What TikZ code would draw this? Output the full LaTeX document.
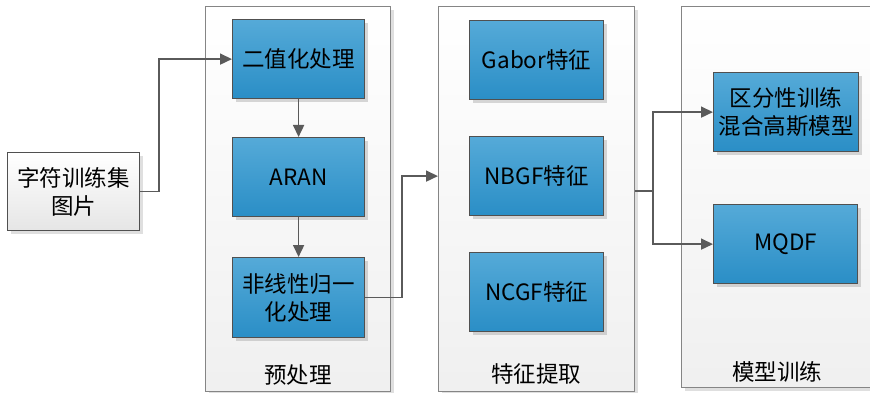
\documentclass[tikz,border=0pt]{standalone}
\usepackage{fontspec}
\setmainfont{Noto Sans CJK SC}
\usetikzlibrary{shadows,arrows.meta}
\definecolor{bluetop}{HTML}{55AAD8}
\definecolor{bluebot}{HTML}{2A8EC6}
\definecolor{edgec}{HTML}{505050}
\definecolor{linec}{HTML}{5A5A5A}
\definecolor{grpedge}{HTML}{858585}
\begin{document}
\begin{tikzpicture}[x=1pt,y=-1pt,
  grp/.style={draw=grpedge, line width=1.3pt, top color=white, bottom color=black!6, anchor=north west, inner sep=0pt,
    drop shadow={opacity=0.25, shadow xshift=3pt, shadow yshift=-3pt}},
  blk/.style={draw=edgec, line width=1.2pt, top color=bluetop, bottom color=bluebot, anchor=north west, inner sep=0pt,
    align=center, font=\fontsize{22.5}{28}\selectfont,
    drop shadow={opacity=0.3, shadow xshift=3pt, shadow yshift=-3pt}},
  inbox/.style={draw=edgec, line width=1.2pt, top color=white, bottom color=black!10, anchor=north west, inner sep=0pt,
    align=center, font=\fontsize{22.5}{28}\selectfont,
    drop shadow={opacity=0.25, shadow xshift=3pt, shadow yshift=-3pt}},
  lbl/.style={font=\fontsize{22.5}{26}\selectfont, inner sep=0pt},
  arr/.style={draw=linec, line width=1.6pt, -{Triangle[length=12pt,width=11pt]}},
  ln/.style={draw=linec, line width=1.6pt}
]
\useasboundingbox (0,0) rectangle (870,393);
% groups
\node[grp, minimum width=185pt, minimum height=385pt] (g1) at (205,6) {};
\node[grp, minimum width=196pt, minimum height=385pt] (g2) at (438,6) {};
\node[grp, minimum width=210pt, minimum height=381pt] (g3) at (681,6) {};
% input
\node[inbox, minimum width=132pt, minimum height=78pt] (in) at (7,152) {字符训练集\\图片};
% preprocessing
\node[blk, minimum width=132pt, minimum height=79pt] (b1) at (232,19) {二值化处理};
\node[blk, minimum width=132pt, minimum height=79pt] (b2) at (232,137) {ARAN};
\node[blk, minimum width=132pt, minimum height=80pt] (b3) at (232,257) {非线性归一\\化处理};
% features
\node[blk, minimum width=134pt, minimum height=79pt] (f1) at (469,20) {Gabor特征};
\node[blk, minimum width=134pt, minimum height=79pt] (f2) at (469,136) {NBGF特征};
\node[blk, minimum width=134pt, minimum height=79pt] (f3) at (469,252) {NCGF特征};
% models
\node[blk, minimum width=145pt, minimum height=79pt] (m1) at (713,72) {区分性训练\\混合高斯模型};
\node[blk, minimum width=144pt, minimum height=79pt] (m2) at (713,204) {MQDF};
% labels
\node[lbl] (l1) at (298,375) {预处理};
\node[lbl] (l2) at (536,374) {特征提取};
\node[lbl] (l3) at (777,372) {模型训练};
% connectors
\draw[arr] (in.east) -- ++(19,0) |- (b1.west);
\draw[arr] (b1) -- (b2);
\draw[arr] (b2) -- (b3);
\draw[arr] (b3.east) -- ++(37,0) |- (g2.west |- f2.center);
\coordinate (split) at (653,191);
\draw[ln] (g2.east |- split) -- (split);
\draw[arr] (split) |- (m1.west);
\draw[arr] (split) |- (m2.west);
\end{tikzpicture}
\end{document}
